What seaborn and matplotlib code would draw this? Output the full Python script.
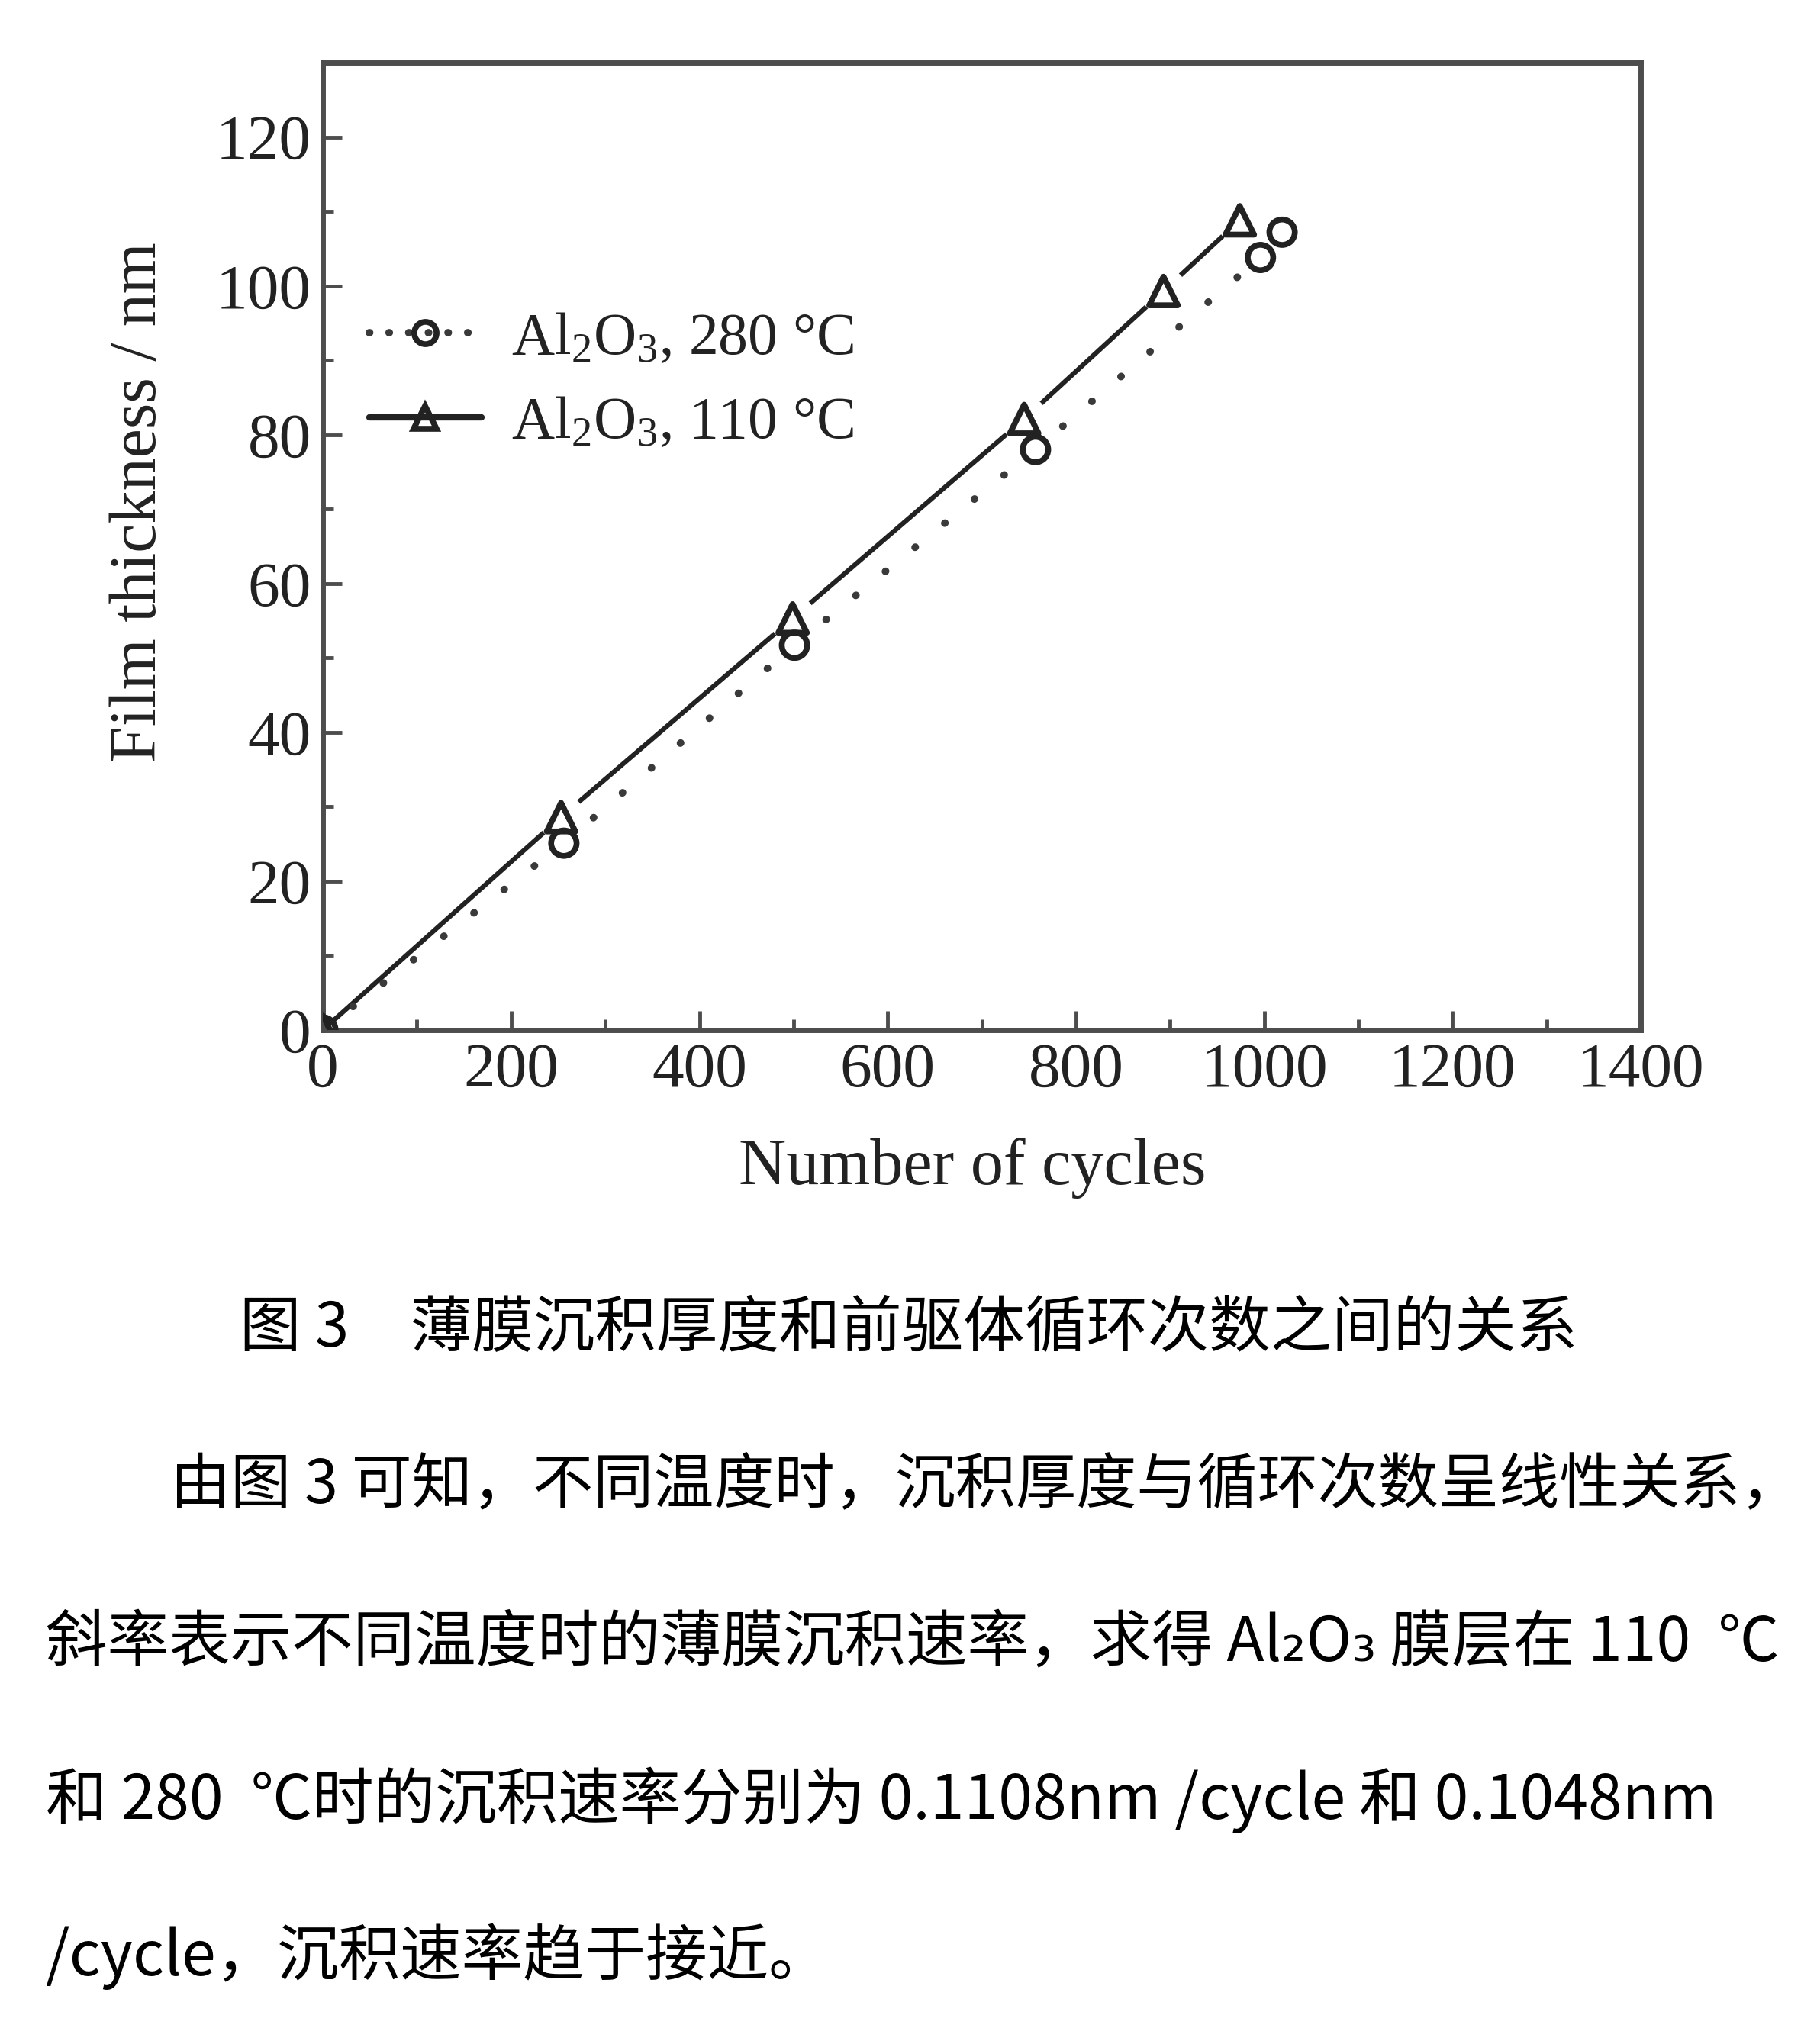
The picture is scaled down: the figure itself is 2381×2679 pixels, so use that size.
import matplotlib
matplotlib.use("Agg")
import matplotlib.pyplot as plt
from matplotlib.lines import Line2D
from matplotlib.ticker import MultipleLocator
import pandas as pd
import seaborn as sns

# values
cycles_280 = [0, 256, 501, 757, 996, 1019]
thick_280 = [0, 25.1, 51.7, 78.0, 103.8, 107.2]
cycles_110 = [0, 253, 499, 745, 893, 974]
thick_110 = [0, 28.6, 55.3, 82.1, 99.3, 108.8]

label_280 = "Al$_2$O$_3$, 280 °C"
label_110 = "Al$_2$O$_3$, 110 °C"
x_label = "Number of cycles"
y_label = "Film thickness / nm"

caption = "图 3　薄膜沉积厚度和前驱体循环次数之间的关系"
body_lines = [
    "由图 3 可知，不同温度时，沉积厚度与循环次数呈线性关系，",
    "斜率表示不同温度时的薄膜沉积速率，求得 Al₂O₃ 膜层在 110  ℃",
    "和 280  ℃时的沉积速率分别为 0.1108nm /cycle 和 0.1048nm",
    "/cycle，沉积速率趋于接近。",
]

sns.set_theme(style="ticks")
plt.rcParams["font.family"] = ["Liberation Serif", "DejaVu Serif"]
plt.rcParams["mathtext.fontset"] = "custom"
plt.rcParams["mathtext.rm"] = "Liberation Serif"
plt.rcParams["mathtext.default"] = "regular"

df280 = pd.DataFrame({"cycles": cycles_280, "thick": thick_280})
df110 = pd.DataFrame({"cycles": cycles_110, "thick": thick_110})

ink = "#222222"
frame = "#4d4d4d"

fig = plt.figure(figsize=(23.81, 26.79), dpi=100)
ax = fig.add_axes([0.1777, 0.4961, 0.7253, 0.4733])

# lines
sns.lineplot(data=df110, x="cycles", y="thick", ax=ax, sort=False,
             color=ink, linewidth=4.5, zorder=2)
sns.lineplot(data=df280, x="cycles", y="thick", ax=ax, sort=False,
             color="#3a3a3a", linewidth=7, zorder=2)
dot_line = ax.lines[-1]
dot_line.set_dashes((0.05, 5.1))
dot_line.set_dash_capstyle("round")

# white masks so the lines break around the markers
sns.scatterplot(data=df110[df110.cycles > 0], x="cycles", y="thick", ax=ax,
                marker="o", s=44**2, color="white", edgecolor="none", zorder=3)
sns.scatterplot(data=df280[df280.cycles > 0], x="cycles", y="thick", ax=ax,
                marker="o", s=36**2, color="white", edgecolor="none", zorder=3)

# hollow markers
sns.scatterplot(data=df110, x="cycles", y="thick", ax=ax, marker="^",
                s=27**2, facecolor="none", edgecolor=ink, linewidth=5.5, zorder=4)
sns.scatterplot(data=df280, x="cycles", y="thick", ax=ax, marker="o",
                s=24**2, facecolor="none", edgecolor=ink, linewidth=5.5, zorder=4)

ax.set_xlim(0, 1400)
ax.set_ylim(0, 130)
ax.xaxis.set_major_locator(MultipleLocator(200))
ax.xaxis.set_minor_locator(MultipleLocator(100))
ax.yaxis.set_major_locator(MultipleLocator(20))
ax.yaxis.set_minor_locator(MultipleLocator(10))

for sp in ax.spines.values():
    sp.set_color(frame)
    sp.set_linewidth(5)
    sp.set_visible(True)

ax.tick_params(which="both", direction="in", color=frame, top=False, right=False,
               labelsize=60, labelcolor=ink)
ax.tick_params(which="major", length=18, width=3.5)
ax.tick_params(which="minor", length=10, width=3.5)
ax.tick_params(axis="x", pad=12)
ax.tick_params(axis="y", pad=11)

ax.set_xlabel(x_label, fontsize=62, color=ink)
ax.set_ylabel(y_label, fontsize=62, color=ink)
ax.xaxis.set_label_coords(0.493, -0.111)
ax.yaxis.set_label_coords(-0.116, 0.546)

handles = [
    Line2D([], [], color="#3a3a3a", linewidth=7, linestyle=(0, (0.05, 2.6)),
           dash_capstyle="round", marker="o", markersize=21, markerfacecolor="none",
           markeredgecolor=ink, markeredgewidth=5.5),
    Line2D([], [], color=ink, linewidth=6, marker="^", markersize=22,
           markerfacecolor="none", markeredgecolor=ink, markeredgewidth=5.5),
]
ax.legend(handles, [label_280, label_110], loc="upper left",
          bbox_to_anchor=(0.035, 0.742), frameon=False, borderpad=0,
          borderaxespad=0, handlelength=1.9, handletextpad=0.5,
          labelspacing=0.5, prop={"family": "Liberation Serif", "size": 56},
          labelcolor=ink)

cjk = ["Noto Sans CJK SC", "DejaVu Sans"]
fig.text(0.5, 0.3498, caption, ha="center", va="center", fontsize=58,
         family=cjk, color="black")
body_x = [0.0935, 0.025, 0.025, 0.025]
body_y = [0.2729, 0.1963, 0.1195, 0.0429]
body_size = [57, 58, 58, 58]
for x, y, size, line in zip(body_x, body_y, body_size, body_lines):
    fig.text(x, y, line, ha="left", va="center", fontsize=size, family=cjk,
             color="black")

fig.savefig("out.png", dpi=100)
